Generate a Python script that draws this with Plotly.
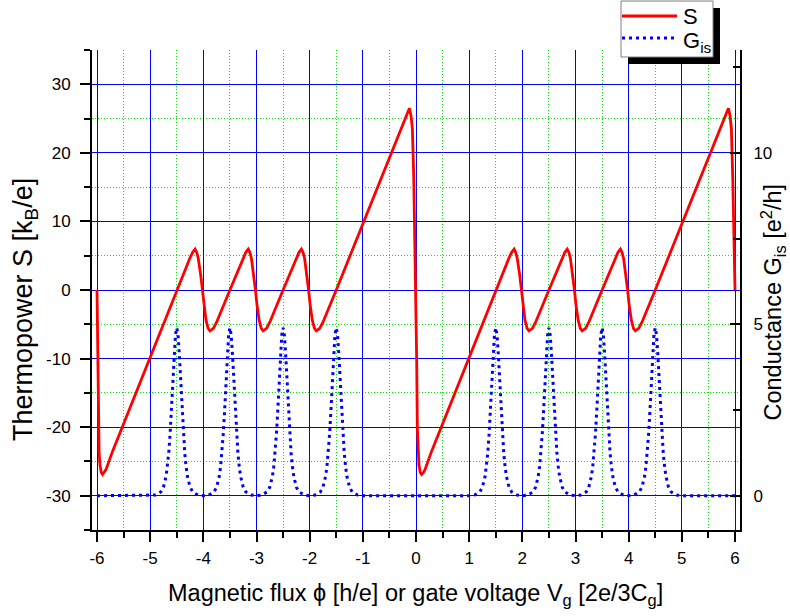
import plotly.graph_objects as go

# ---------------- data ----------------
# Thermopower S [kB/e] versus flux / gate voltage
s_x = [-6.000, -5.987, -5.975, -5.960, -5.944, -5.920, -5.895, -5.860, -5.831, -5.706,
       -5.250, -4.750, -4.500, -4.250, -4.200, -4.155, -4.125, -4.095, -4.050, -4.020,
       -3.990, -3.950, -3.910, -3.875, -3.810, -3.750, -3.500, -3.250, -3.200, -3.155,
       -3.125, -3.095, -3.050, -3.020, -2.990, -2.950, -2.910, -2.875, -2.810, -2.750,
       -2.500, -2.250, -2.200, -2.155, -2.125, -2.095, -2.050, -2.020, -1.990, -1.950,
       -1.910, -1.875, -1.810, -1.750, -1.500, -1.000, -0.500, -0.200, -0.160, -0.124,
       -0.095, -0.068, -0.042, -0.018, 0.000, 0.013, 0.025, 0.040, 0.056, 0.080,
       0.105, 0.140, 0.169, 0.294, 0.750, 1.250, 1.500, 1.750, 1.800, 1.845,
       1.875, 1.905, 1.950, 1.980, 2.010, 2.050, 2.090, 2.125, 2.190, 2.250,
       2.500, 2.750, 2.800, 2.845, 2.875, 2.905, 2.950, 2.980, 3.010, 3.050,
       3.090, 3.125, 3.190, 3.250, 3.500, 3.750, 3.800, 3.845, 3.875, 3.905,
       3.950, 3.980, 4.010, 4.050, 4.090, 4.125, 4.190, 4.250, 4.500, 5.000,
       5.500, 5.800, 5.840, 5.876, 5.905, 5.932, 5.958, 5.982, 6.000]
s_y = [0.0, -10.4, -20.1, -23.8, -25.5, -26.6, -26.9, -26.6, -26.2, -23.5,
       -14.6, -4.8, 0.0, 4.7, 5.5, 5.95, 5.5, 4.6, 2.2, 0.0,
       -2.2, -4.4, -5.6, -5.95, -5.6, -4.7, 0.0, 4.7, 5.5, 5.95,
       5.5, 4.6, 2.2, 0.0, -2.2, -4.4, -5.6, -5.95, -5.6, -4.7,
       0.0, 4.7, 5.5, 5.95, 5.5, 4.6, 2.2, 0.0, -2.2, -4.4,
       -5.6, -5.95, -5.6, -4.7, 0.0, 9.7, 19.4, 25.0, 25.9, 26.5,
       25.5, 23.5, 16.3, 6.5, -0.5, -10.4, -20.1, -23.8, -25.5, -26.6,
       -26.9, -26.6, -26.2, -23.5, -14.6, -4.8, 0.0, 4.7, 5.5, 5.95,
       5.5, 4.6, 2.2, 0.0, -2.2, -4.4, -5.6, -5.95, -5.6, -4.7,
       0.0, 4.7, 5.5, 5.95, 5.5, 4.6, 2.2, 0.0, -2.2, -4.4,
       -5.6, -5.95, -5.6, -4.7, 0.0, 4.7, 5.5, 5.95, 5.5, 4.6,
       2.2, 0.0, -2.2, -4.4, -5.6, -5.95, -5.6, -4.7, 0.0, 9.7,
       19.4, 25.0, 25.9, 26.5, 25.5, 23.5, 16.3, 6.5, 0.0]

# Conductance G_is [e^2/h]: resonance centres and the shape of one resonance
g_peak_centers = [-4.5, -3.5, -2.5, -1.5, 1.5, 2.5, 3.5, 4.5]
g_profile_dx = [-0.5, -0.4, -0.3, -0.25, -0.2, -0.175, -0.15, -0.125, -0.1, -0.075, -0.05, -0.025,
                0.0, 0.025, 0.05, 0.075, 0.1, 0.125, 0.15, 0.175, 0.2, 0.25, 0.3, 0.4, 0.5]
g_profile_val = [0.0, 0.02, 0.11, 0.25, 0.57, 0.86, 1.25, 1.80, 2.48, 3.29, 4.08, 4.68,
                 4.90, 4.68, 4.08, 3.29, 2.48, 1.80, 1.25, 0.86, 0.57, 0.25, 0.11, 0.02, 0.0]
g_x_ends = [-6.0, 6.0]
g_y_ends = [0.0, 0.0]

# tick labels
x_tick_vals = [-6, -5, -4, -3, -2, -1, 0, 1, 2, 3, 4, 5, 6]
x_tick_text = ["-6", "-5", "-4", "-3", "-2", "-1", "0", "1", "2", "3", "4", "5", "6"]
x_minor_vals = [-5.5, -4.5, -3.5, -2.5, -1.5, -0.5, 0.5, 1.5, 2.5, 3.5, 4.5, 5.5]
y_tick_vals = [-30, -20, -10, 0, 10, 20, 30]
y_tick_text = ["-30", "-20", "-10", "0", "10", "20", "30"]
y_minor_vals = [-35, -25, -15, -5, 5, 15, 25, 35]
y2_tick_vals = [0, 5, 10]
y2_tick_text = ["0", "5", "10"]
y2_minor_vals = [2.5, 7.5, 12.5]

# ---------------- assemble G series ----------------
g_x = [g_x_ends[0]]
g_y = [g_y_ends[0]]
for c in g_peak_centers:
    for dx, v in zip(g_profile_dx, g_profile_val):
        g_x.append(c + dx)
        g_y.append(v)
g_x.append(g_x_ends[1])
g_y.append(g_y_ends[1])

# ---------------- figure ----------------
W, H = 790, 616
L, T, PW, PH = 92, 50, 648, 480
FONT = "Liberation Sans, Arial, sans-serif"
TICK_SIZE = 17


def px_x(px):
    return (px - L) / PW


def px_y(py):
    return (T + PH - py) / PH


fig = go.Figure()
fig.add_trace(go.Scatter(x=s_x, y=s_y, mode="lines", name="S",
                         line=dict(color="#ff0000", width=2.8), yaxis="y"))
fig.add_trace(go.Scatter(x=g_x, y=g_y, mode="lines", name="G<sub>is</sub>",
                         line=dict(color="#0000ff", width=3, dash="3px,4px"), yaxis="y2"))

grid_blue = "#0000ff"
grid_green = "#00ee00"

fig.update_layout(
    width=W, height=H,
    margin=dict(l=L, r=W - L - PW, t=T, b=H - T - PH, pad=0),
    paper_bgcolor="white", plot_bgcolor="white",
    showlegend=False,
    font=dict(family=FONT, size=TICK_SIZE, color="black"),
    xaxis=dict(
        range=[-6.094, 6.094], tickmode="array", tickvals=x_tick_vals, ticktext=x_tick_text,
        showline=True, linecolor="black", linewidth=2, mirror=False,
        ticks="outside", ticklen=10, tickwidth=2, tickcolor="black",
        showgrid=True, gridcolor=grid_blue, gridwidth=1, zeroline=False,
        tickfont=dict(size=TICK_SIZE), ticklabelstandoff=2, automargin=False,
        minor=dict(tickmode="array", tickvals=x_minor_vals, ticks="outside", ticklen=6,
                   tickwidth=2, tickcolor="black", showgrid=True, gridcolor=grid_green,
                   gridwidth=1, griddash="1px,2px"),
    ),
    yaxis=dict(
        range=[-35, 35], tickmode="array", tickvals=y_tick_vals, ticktext=y_tick_text,
        showline=True, linecolor="black", linewidth=2, mirror=False,
        ticks="outside", ticklen=10, tickwidth=2, tickcolor="black",
        showgrid=True, gridcolor=grid_blue, gridwidth=1, zeroline=False,
        tickfont=dict(size=TICK_SIZE), ticklabelstandoff=6, automargin=False,
        minor=dict(tickmode="array", tickvals=y_minor_vals, ticks="outside", ticklen=6,
                   tickwidth=2, tickcolor="black", showgrid=True, gridcolor=grid_green,
                   gridwidth=1, griddash="1px,2px"),
    ),
    yaxis2=dict(
        range=[-1, 13], overlaying="y", side="right", anchor="x",
        tickmode="array", tickvals=y2_tick_vals, ticktext=y2_tick_text,
        showline=True, linecolor="black", linewidth=2,
        ticks="inside", ticklen=10, tickwidth=2, tickcolor="black",
        showgrid=False, zeroline=False, tickfont=dict(size=TICK_SIZE), ticklabelstandoff=8,
        automargin=False,
        minor=dict(tickmode="array", tickvals=y2_minor_vals, ticks="inside", ticklen=7,
                   tickwidth=2, tickcolor="black", showgrid=False),
    ),
)

# axis titles
fig.add_annotation(text="Magnetic flux ϕ [h/e] or gate voltage V<sub>g</sub> [2e/3C<sub>g</sub>]",
                   xref="paper", yref="paper", x=px_x(415.5), y=px_y(594),
                   xanchor="center", yanchor="middle", showarrow=False,
                   font=dict(family=FONT, size=23.5, color="black"))
fig.add_annotation(text="Thermopower S [k<sub>B</sub>/e]",
                   xref="paper", yref="paper", x=px_x(25), y=px_y(310),
                   xanchor="center", yanchor="middle", showarrow=False, textangle=-90,
                   font=dict(family=FONT, size=27, color="black"))
fig.add_annotation(text="Conductance G<sub>is</sub> [e<sup>2</sup>/h]",
                   xref="paper", yref="paper", x=px_x(772.5), y=px_y(302),
                   xanchor="center", yanchor="middle", showarrow=False, textangle=-90,
                   font=dict(family=FONT, size=23.5, color="black"))

# legend box with shadow (drawn by hand)
fig.add_shape(type="rect", xref="paper", yref="paper",
              x0=px_x(628), x1=px_x(720), y0=px_y(64), y1=px_y(8),
              fillcolor="black", line=dict(width=0), layer="above")
fig.add_shape(type="rect", xref="paper", yref="paper",
              x0=px_x(621), x1=px_x(713), y0=px_y(57), y1=px_y(1),
              fillcolor="white", line=dict(color="#808080", width=1), layer="above")
fig.add_shape(type="line", xref="paper", yref="paper",
              x0=px_x(622), x1=px_x(677), y0=px_y(16), y1=px_y(16),
              line=dict(color="#ff0000", width=2.8), layer="above")
fig.add_shape(type="line", xref="paper", yref="paper",
              x0=px_x(622), x1=px_x(674), y0=px_y(38), y1=px_y(38),
              line=dict(color="#0000ff", width=3, dash="3px,4px"), layer="above")
fig.add_annotation(text="S", xref="paper", yref="paper", x=px_x(681), y=px_y(16),
                   xanchor="left", yanchor="middle", showarrow=False,
                   font=dict(family=FONT, size=22, color="black"))
fig.add_annotation(text="G<sub>is</sub>", xref="paper", yref="paper", x=px_x(681), y=px_y(42),
                   xanchor="left", yanchor="middle", showarrow=False,
                   font=dict(family=FONT, size=22, color="black"))

fig.write_html("out.html",
               config={"displayModeBar": False},
               post_script="document.body.style.margin='0px';document.body.style.padding='0px';")
